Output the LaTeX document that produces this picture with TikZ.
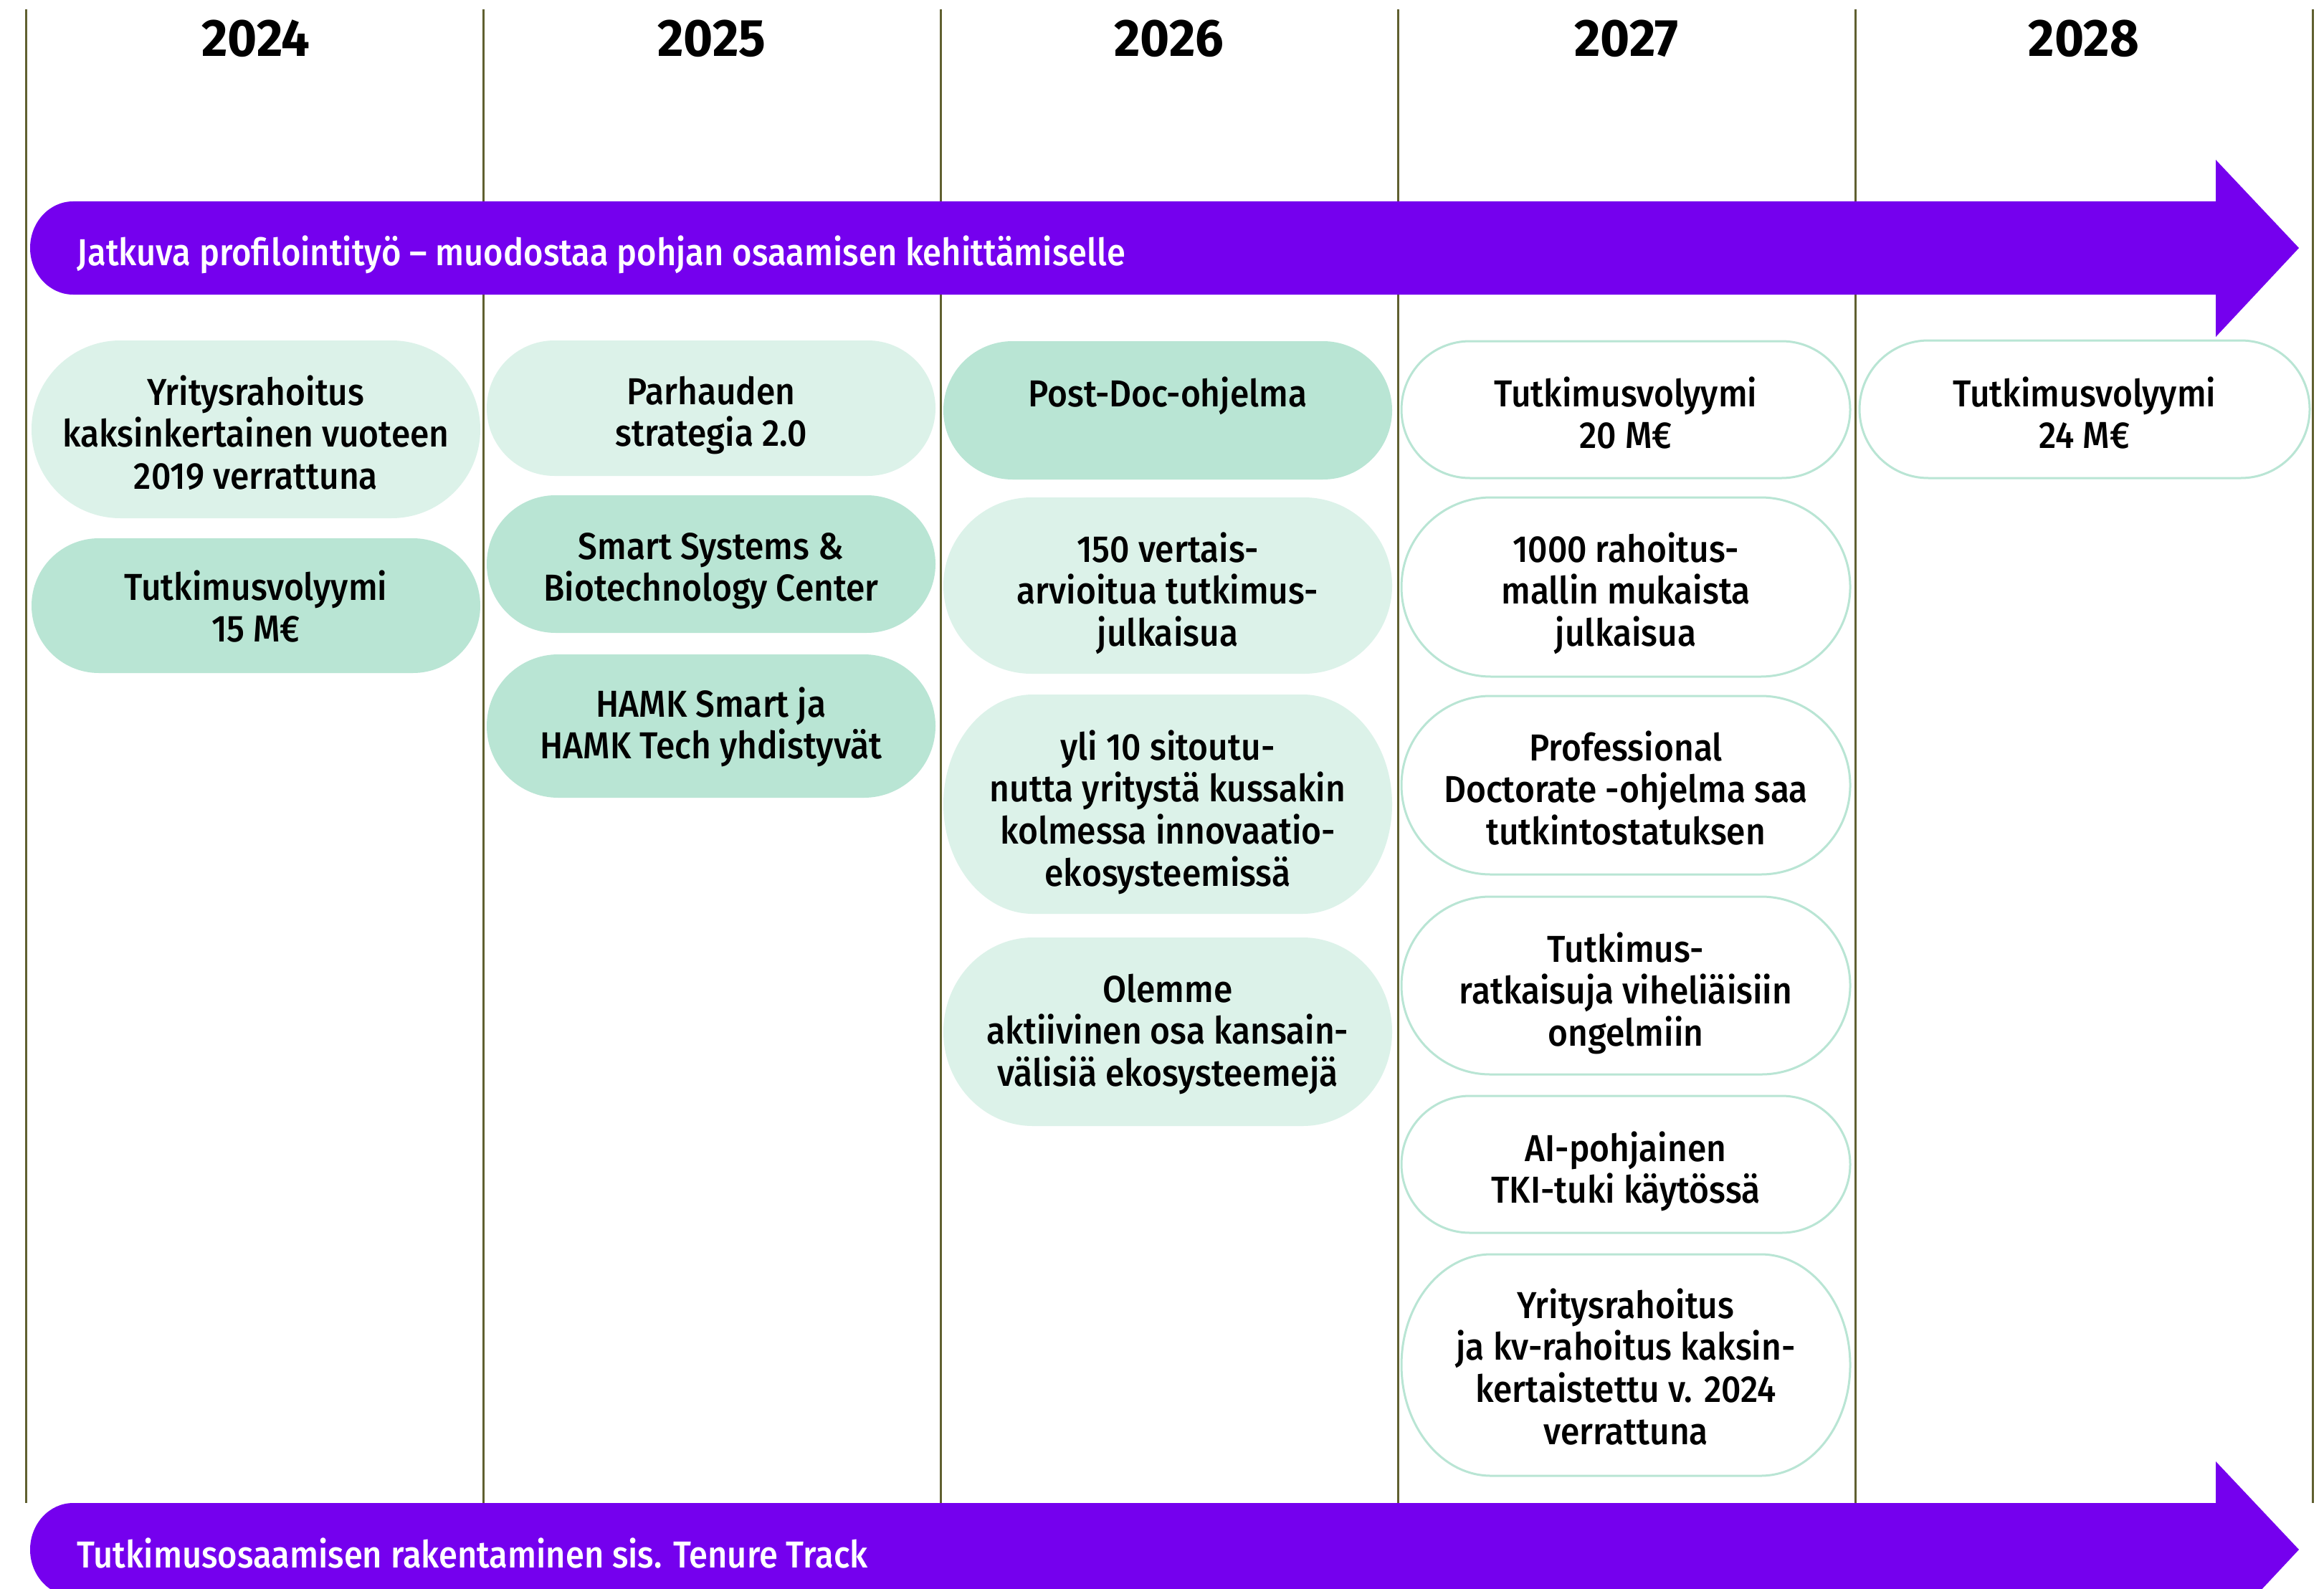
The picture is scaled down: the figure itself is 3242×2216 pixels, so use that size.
\documentclass[tikz,border=0pt]{standalone}
\usepackage{fontspec}
\IfFontExistsTF{Fira Sans Medium}{%
  \newfontfamily\boxfont{Fira Sans Medium}[FakeStretch=0.915]%
  \newfontfamily\arrowfont{Fira Sans Medium}[FakeStretch=0.90]%
}{%
  \newfontfamily\boxfont{Fira Sans}[FakeStretch=0.915,FakeBold=1.5]%
  \newfontfamily\arrowfont{Fira Sans}[FakeStretch=0.90,FakeBold=1.5]%
}
\newfontfamily\yearfont{Fira Sans}[FakeStretch=0.96]
\definecolor{purp}{RGB}{117,0,238}
\definecolor{lightg}{RGB}{220,242,233}
\definecolor{midg}{RGB}{185,229,212}
\definecolor{lineol}{RGB}{96,96,48}
\newcommand\mylines[1]{\vtop{\halign{\hfil##\hfil\cr#1\crcr}}}
% pill: style, x, y top, width, height
\newcommand\pill[5]{%
  \pgfmathsetmacro\pillry{#5/2}%
  \pgfmathsetmacro\pillrx{min(#5/2,125)}%
  \path[#1] (#2+\pillrx,#3) -- (#2+#4-\pillrx,#3)
    arc[start angle=-90,end angle=90,x radius=\pillrx,y radius=\pillry]
    -- (#2+\pillrx,#3+#5)
    arc[start angle=90,end angle=270,x radius=\pillrx,y radius=\pillry] -- cycle;}
\tikzset{
  lightbox/.style={fill=lightg},
  midbox/.style={fill=midg},
  whitebox/.style={fill=white,draw=midg,line width=0.9bp},
  txt/.style={inner sep=0pt,anchor=base,text=black,font=\boxfont\fontsize{15.7bp}{17.6bp}\selectfont},
  yeartxt/.style={inner sep=0pt,anchor=base,text=black,font=\yearfont\bfseries\fontsize{22bp}{24bp}\selectfont},
  arrtxt/.style={inner sep=0pt,anchor=base west,text=white,font=\arrowfont\fontsize{15.7bp}{17.6bp}\selectfont},
  colline/.style={draw=lineol,line width=0.9bp},
  bigarrow/.style={fill=purp}
}
\begin{document}
\begin{tikzpicture}[x=0.3bp,y=-0.3bp]
\useasboundingbox (0,0) rectangle (3242,2216);
\clip (0,0) rectangle (3242,2216);
\fill[white] (0,0) rectangle (3242,2216);
% column lines
\foreach \i in {0,...,5}{
  \draw[colline] ({36+638*\i},13) -- ({36+638*\i},2097);
}
% years
\node[yeartxt] (y2024) at (357,79) {2024};
\node[yeartxt] (y2025) at (993,79) {2025};
\node[yeartxt] (y2026) at (1631,79) {2026};
\node[yeartxt] (y2027) at (2269,79) {2027};
\node[yeartxt] (y2028) at (2907,79) {2028};
% top arrow
\path[bigarrow] (102,281) -- (3091,281) -- (3091,223) -- (3207,346) -- (3091,470) -- (3091,411) -- (102,411)
  arc[start angle=90,end angle=270,x radius=60,y radius=65] -- cycle;
\node[arrtxt] (topar) at (107,371) {Jatkuva profilointityö – muodostaa pohjan osaamisen kehittämiselle};
% bottom arrow
\path[bigarrow] (102,2097) -- (3091,2097) -- (3091,2039) -- (3207,2162) -- (3091,2286) -- (3091,2227) -- (102,2227)
  arc[start angle=90,end angle=270,x radius=60,y radius=65] -- cycle;
\node[arrtxt] (botar) at (107,2187) {Tutkimusosaamisen rakentaminen sis. Tenure Track};
% 2024
\pill{lightbox}{44}{475}{626}{248}
\node[txt] (a1) at (357,565) {\mylines{Yritysrahoitus\cr kaksinkertainen vuoteen\cr 2019 verrattuna}};
\pill{midbox}{44}{751}{626}{188}
\node[txt] (a2) at (357,837) {\mylines{Tutkimusvolyymi\cr 15 M€}};
% 2025
\pill{lightbox}{679}{475}{626}{189}
\node[txt] (b1) at (992,564) {\mylines{Parhauden\cr strategia 2.0}};
\pill{midbox}{679}{691}{626}{192}
\node[txt] (b2) at (992,780) {\mylines{Smart Systems \&\cr Biotechnology Center}};
\pill{midbox}{679}{913}{626}{200}
\node[txt] (b3) at (992,1000) {\mylines{HAMK Smart ja\cr HAMK Tech yhdistyvät}};
% 2026
\pill{midbox}{1316}{476}{626}{193}
\node[txt] (c1) at (1629,567) {\mylines{Post-Doc-ohjelma}};
\pill{lightbox}{1316}{694}{626}{246}
\node[txt] (c2) at (1629,784) {\mylines{150 vertais-\cr arvioitua tutkimus-\cr julkaisua}};
\pill{lightbox}{1316}{969}{626}{306}
\node[txt] (c3) at (1629,1060) {\mylines{yli 10 sitoutu-\cr nutta yritystä kussakin\cr kolmessa innovaatio-\cr ekosysteemissä}};
\pill{lightbox}{1316}{1308}{626}{263}
\node[txt] (c4) at (1629,1398) {\mylines{Olemme\cr aktiivinen osa kansain-\cr välisiä ekosysteemejä}};
% 2027
\pill{whitebox}{1955}{476}{626}{191}
\node[txt] (d1) at (2268,567) {\mylines{Tutkimusvolyymi\cr 20 M€}};
\pill{whitebox}{1955}{694}{626}{250}
\node[txt] (d2) at (2268,784) {\mylines{1000 rahoitus-\cr mallin mukaista\cr julkaisua}};
\pill{whitebox}{1955}{971}{626}{249}
\node[txt] (d3) at (2268,1061) {\mylines{Professional\cr Doctorate -ohjelma saa\cr tutkintostatuksen}};
\pill{whitebox}{1955}{1251}{626}{248}
\node[txt] (d4) at (2268,1342) {\mylines{Tutkimus-\cr ratkaisuja viheliäisiin\cr ongelmiin}};
\pill{whitebox}{1955}{1529}{626}{191}
\node[txt] (d5) at (2268,1620) {\mylines{AI-pohjainen\cr TKI-tuki käytössä}};
\pill{whitebox}{1955}{1750}{626}{309}
\node[txt] (d6) at (2268,1839) {\mylines{Yritysrahoitus\cr ja kv-rahoitus kaksin-\cr kertaistettu v. 2024\cr verrattuna}};
% 2028
\pill{whitebox}{2594}{475}{628}{192}
\node[txt] (e1) at (2908,567) {\mylines{Tutkimusvolyymi\cr 24 M€}};
\end{tikzpicture}
\end{document}
